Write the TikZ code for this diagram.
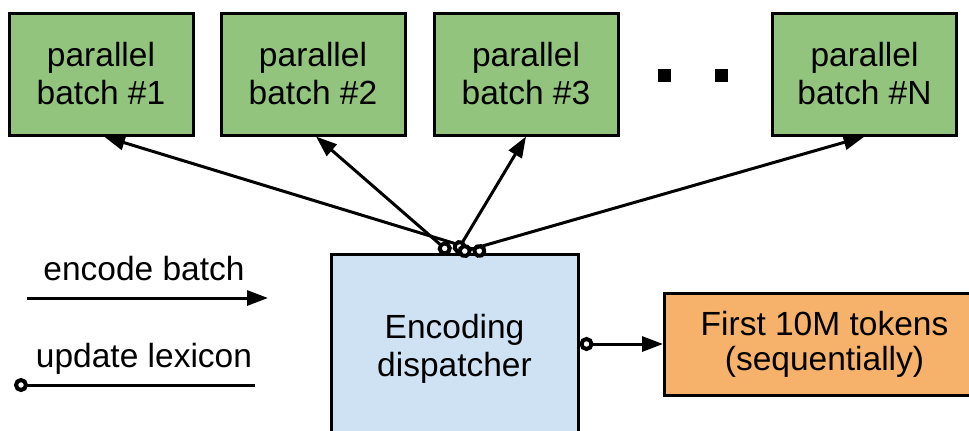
\documentclass[tikz,border=0pt]{standalone}
\usepackage{fontspec}
\setmainfont{Liberation Sans}
\usepackage{xcolor}
\usetikzlibrary{arrows.meta,positioning}
\definecolor{batchgreen}{HTML}{93C47D}
\definecolor{dispatchblue}{HTML}{CFE2F3}
\definecolor{seqorange}{HTML}{F6B26B}
\tikzset{
  batchbox/.style={draw=black,fill=batchgreen,line width=1.5pt,align=center,
    minimum width=92pt,minimum height=61pt,inner sep=0pt,
    font=\fontsize{16.75}{19}\selectfont},
  dispatchbox/.style={draw=black,fill=dispatchblue,line width=1.5pt,align=center,
    minimum width=123.5pt,minimum height=94pt,font=\fontsize{16.75}{19}\selectfont},
  seqbox/.style={draw=black,fill=seqorange,line width=1.5pt,align=center,
    minimum width=160pt,minimum height=51pt,font=\fontsize{16.75}{17.5}\selectfont},
  encodearrow/.style={-{Triangle[length=10.5pt,width=7.5pt]},line width=1.5pt},
  lexiconline/.style={{Circle[open,length=7pt,width=7pt,line width=2pt,fill=white]}-,line width=1.5pt},
  lexiconarrow/.style={{Circle[open,length=7pt,width=7pt,line width=2pt,fill=white]}-{Triangle[length=10.5pt,width=7.5pt]},
    line width=1.5pt},
  legendlabel/.style={font=\fontsize{16.75}{19}\selectfont,anchor=base,inner sep=0pt},
  dotmark/.style={fill=black,minimum size=6.5pt,inner sep=0pt}
}
\begin{document}
\begin{tikzpicture}[x=0.5pt,y=-0.5pt]
  \clip (0,0) rectangle (969,430);
  % batches along the top
  \node[batchbox] (b1) at (101,74) {parallel\\batch \#1};
  \node[batchbox,right=12.5pt of b1] (b2) {parallel\\batch \#2};
  \node[batchbox,right=13pt of b2] (b3) {parallel\\batch \#3};
  \node[dotmark] (dot1) at (664,75) {};
  \node[dotmark] (dot2) at (721,75) {};
  \node[batchbox] (bN) at (864.5,74) {parallel\\batch \#N};

  \node[dispatchbox,anchor=north] (disp) at (454.5,253) {Encoding\\dispatcher};
  \node[seqbox,anchor=west] (seq) at (663,344) {First 10M tokens\\(sequentially)};

  \draw[lexiconarrow] ([xshift=15.75pt]disp.north) -- ([xshift=1.5pt]b1.south);
  \draw[lexiconarrow] ([xshift=-2.25pt]disp.north) -- ([xshift=1.5pt]b2.south);
  \draw[lexiconarrow] ([xshift=0.75pt]disp.north) -- (b3.south);
  \draw[lexiconarrow] ([xshift=1.75pt]disp.north) -- (bN.south);
  \draw[lexiconarrow] (disp.east |- seq.west) -- (seq.west);

  % legend
  \node[legendlabel] (enc) at (144,280) {encode batch};
  \coordinate (encL) at (27,298);
  \coordinate (encR) at (268,298);
  \draw[encodearrow] (encL) -- (encR);
  \node[legendlabel] (upd) at (144,367) {update lexicon};
  \coordinate (updL) at (14,385);
  \coordinate (updR) at (255,385);
  \draw[lexiconline] (updL) -- (updR);
\end{tikzpicture}
\end{document}
